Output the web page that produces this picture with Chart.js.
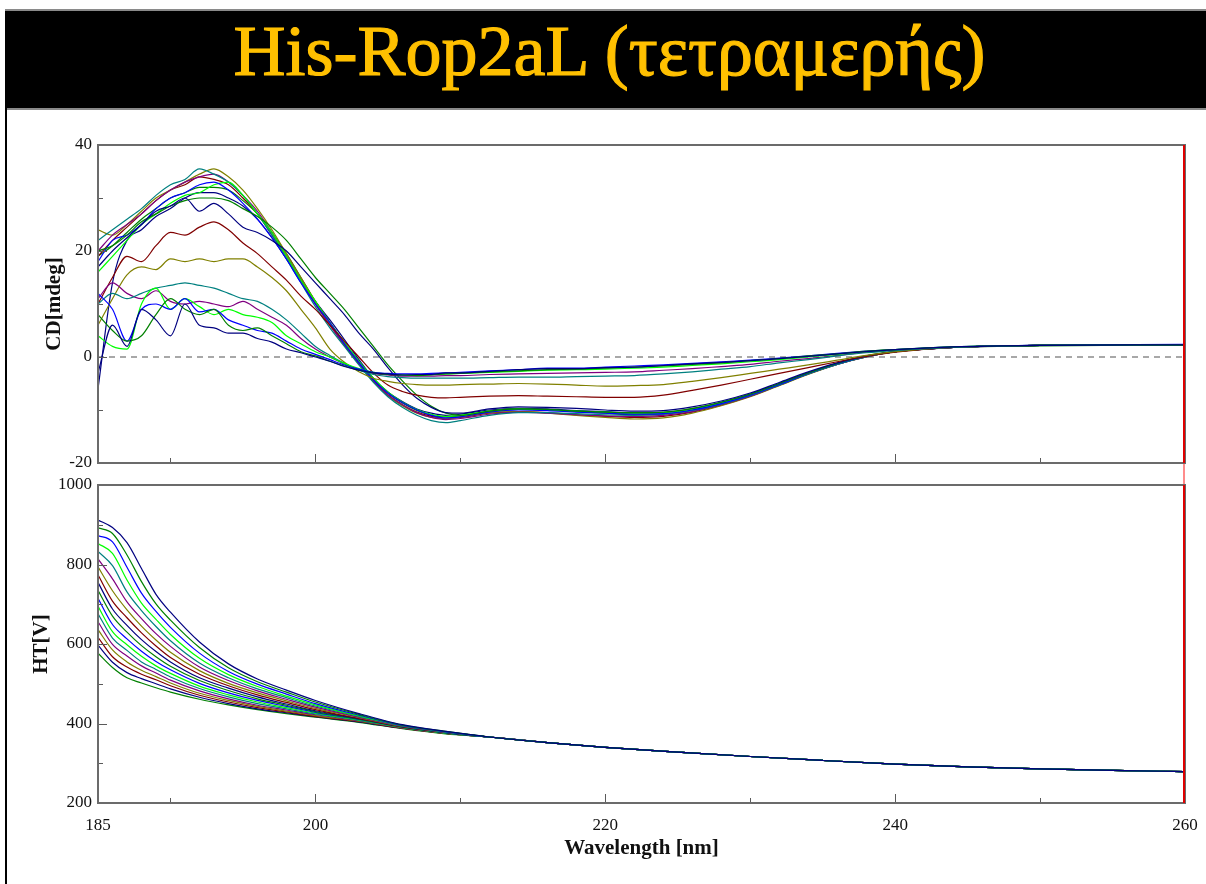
<!DOCTYPE html>
<html>
<head>
<meta charset="utf-8">
<script src="https://cdn.jsdelivr.net/npm/chart.js@4.4.1/dist/chart.umd.min.js"></script>
<style>
  html, body { margin: 0; padding: 0; background: #fff; }
  #page { position: relative; width: 1206px; height: 884px; overflow: hidden; background: #fff; }
  #banner { position: absolute; left: 5px; top: 9px; width: 1201px; height: 97px; background: #000;
            border-top: 2px solid #8a8a8a; border-bottom: 2px solid #8a8a8a; }
  #banner h1 { position: absolute; left: 0; right: 0; top: 4px; margin: 0; text-align: center;
               font: normal 72px/72px "Liberation Serif", serif; color: #ffc000; padding-left: 8px;
               -webkit-text-stroke: 1.2px #ffc000; }
  #edge { position: absolute; left: 5px; top: 108px; bottom: 0; width: 2px; background: #000; }
  canvas { position: absolute; left: 0; }
  #cd { top: 130px; }
  #ht { top: 470px; }
</style>
</head>
<body>
<div id="page">
  <div id="banner"><h1>His-Rop2aL (τετραμερής)</h1></div>
  <div id="edge"></div>
  <canvas id="cd" width="1206" height="355"></canvas>
  <canvas id="ht" width="1206" height="414"></canvas>
</div>
<script>
// wavelength grids (nm)
const cdWavelengths = [185, 186, 187, 188, 189, 190, 191, 192, 193, 194, 195, 196, 197, 198, 199, 200,
  201, 202, 203, 204, 205, 206, 207, 208, 209, 210, 212, 214, 216, 218, 220, 222, 224, 226, 228, 230,
  232, 234, 236, 238, 240, 244, 250, 260];
const htWavelengths = [185, 186, 187, 188, 189, 190, 192, 194, 196, 198, 200, 203, 206, 209,
  212, 216, 220, 225, 230, 235, 240, 245, 250, 255, 260];

// axis ticks
const wavelengthTicks = [185, 200, 220, 240, 260];
const wavelengthMarks = [190, 200, 210, 220, 230, 240, 250];
const cdTickLabels = [-20, 0, 20, 40];
const htTickLabels = [200, 400, 600, 800, 1000];

// scan colours, cycled through the 18 scans
const scanColors = ['#000080', '#008000', '#0000ff', '#00ff00', '#008080', '#800080', '#808000', '#800000'];

// CD [mdeg], one row per scan
const cdScans = [
  [-3, 6, 2, 9, 7, 4, 10, 6, 5.5, 4.5, 4.5, 3.5, 2.8, 1.5, 0.8, 0, -0.8, -1.8, -2.5, -3, -3.2, -3.4, -3.3, -3.3, -3, -3,
   -2.7, -2.4, -2.2, -2.2, -2, -1.9, -1.6, -1.3, -1, -0.7, -0.3, 0.1, 0.6, 1, 1.4, 1.9, 2.2, 2.3],
  [8, 5, 3, 4, 8, 11, 9, 8, 9, 6, 5, 5.5, 4, 2.5, 1, 0.2, -0.8, -1.7, -2.5, -3, -3.3, -3.4, -3.5, -3.4, -3.2, -3.1,
   -2.8, -2.6, -2.4, -2.3, -2.1, -1.9, -1.7, -1.4, -1.1, -0.7, -0.3, 0.2, 0.6, 1.1, 1.4, 1.9, 2.2, 2.3],
  [12, 9, 3, 9, 10, 9, 11, 8.5, 9, 7, 6, 5, 4.5, 3, 1.5, 0.5, -0.5, -1.5, -2.3, -2.9, -3.1, -3.2, -3.2, -3.1, -3, -2.9,
   -2.6, -2.4, -2.1, -2.1, -1.9, -1.7, -1.5, -1.2, -0.9, -0.6, -0.2, 0.2, 0.7, 1.1, 1.4, 1.9, 2.2, 2.4],
  [4, 2, 1.5, 10, 13, 9, 11, 9.5, 8, 9, 8, 7.5, 6.5, 4, 2.5, 1, 0, -1.2, -2.2, -2.9, -3.2, -3.4, -3.4, -3.3, -3.2, -3.1,
   -2.9, -2.7, -2.5, -2.4, -2.3, -2.1, -1.9, -1.6, -1.3, -0.9, -0.5, 0, 0.5, 1, 1.4, 1.9, 2.2, 2.3],
  [10, 12, 11, 12, 13, 13.5, 14, 13.5, 13, 12, 11, 10.5, 9, 7, 4.5, 2, 0.3, -1.2, -2.5, -3.3, -3.7, -3.9, -4, -4, -4, -4,
   -3.9, -3.8, -3.8, -3.7, -3.6, -3.5, -3.2, -2.8, -2.3, -1.8, -1.1, -0.5, 0.2, 0.8, 1.2, 1.8, 2.2, 2.3],
  [11, 14, 12, 11, 12.5, 10.5, 10, 10.5, 10, 9.5, 10.5, 9, 7.5, 6, 3.5, 1.5, 0, -1.3, -2.4, -3.1, -3.4, -3.6, -3.6, -3.6, -3.5, -3.5,
   -3.3, -3.2, -3.1, -3, -2.9, -2.8, -2.5, -2.2, -1.8, -1.4, -0.8, -0.3, 0.3, 0.9, 1.3, 1.8, 2.2, 2.3],
  [6, 11, 15.5, 17, 16.5, 18.5, 18, 18.5, 18, 18.5, 18.5, 17, 15, 12.5, 9, 5.5, 1.5, -1, -2.8, -4, -4.6, -5, -5.2, -5.3, -5.3, -5.2,
   -5.1, -5, -5.1, -5.3, -5.5, -5.4, -5.2, -4.6, -3.9, -3.1, -2.3, -1.5, -0.6, 0.3, 1, 1.8, 2.2, 2.3],
  [10, 15, 19, 18, 21, 23.5, 23, 24.5, 25.5, 24, 21.5, 19.5, 17, 14.5, 11.5, 9, 6, 3, 0, -3, -5.3, -6.5, -7.2, -7.6, -7.7, -7.6,
   -7.4, -7.3, -7.4, -7.5, -7.6, -7.6, -7.2, -6.3, -5.3, -4.2, -3.1, -2, -0.9, 0.1, 0.9, 1.8, 2.2, 2.3],
  [17, 20, 22.5, 25, 27.5, 28.5, 30, 27.5, 29, 27, 24.5, 23.5, 22, 20, 17, 14, 11, 8, 4.5, 1.5, -2, -5.2, -7.8, -9.5, -10.5, -10.6,
   -9.8, -9.4, -9.5, -9.7, -10, -10.2, -10.1, -9.4, -8.3, -6.8, -4.8, -2.8, -1.1, 0.2, 1, 1.8, 2.2, 2.3],
  [20, 21, 23, 25.5, 27, 28.5, 29.5, 30, 30, 29.5, 28, 26.5, 24.5, 22, 18.5, 15, 12, 9, 5.5, 2, -1.5, -4.5, -7.2, -9.3, -10.6, -11,
   -10.2, -9.8, -9.9, -10.2, -10.4, -10.5, -10.4, -9.7, -8.5, -7, -5, -3, -1.2, 0.2, 1, 1.8, 2.1, 2.3],
  [18, 22, 23, 25, 28, 30, 31, 32.5, 33, 31.5, 29, 26, 22.5, 18.5, 14, 10, 6.5, 2.5, -1, -4.3, -6.8, -8.6, -10, -11, -11.5, -11.3,
   -10.4, -10, -10.1, -10.4, -10.6, -10.8, -10.7, -10, -8.8, -7.2, -5.2, -3.1, -1.3, 0.1, 1, 1.8, 2.2, 2.3],
  [16, 19, 22, 25, 27, 29, 30.5, 31, 32.5, 33, 30.5, 27, 23.5, 19, 14.5, 10.5, 6.5, 2.8, -0.8, -4, -6.6, -8.5, -9.9, -10.8, -11.2, -11,
   -10.2, -9.8, -10, -10.2, -10.4, -10.6, -10.5, -9.9, -8.7, -7.1, -5.1, -3.1, -1.3, 0.1, 1, 1.9, 2.2, 2.3],
  [22, 24, 26, 28, 30.5, 32.5, 33.5, 35.5, 34.5, 33, 30.5, 27, 23, 18.5, 14, 9.5, 5.5, 2, -1.5, -4.8, -7.5, -9.5, -11, -12, -12.4, -12,
   -11, -10.5, -10.5, -10.7, -10.9, -11, -10.8, -10.1, -8.9, -7.3, -5.3, -3.2, -1.4, 0, 1, 1.8, 2.2, 2.3],
  [20, 23, 25, 27, 29.5, 31.5, 33, 34, 34.5, 33, 30.5, 27.5, 23.5, 19, 14.5, 10, 6, 2.3, -1.2, -4.5, -7.2, -9, -10.5, -11.4, -11.8, -11.6,
   -10.8, -10.4, -10.6, -10.9, -11.1, -11.2, -11, -10.3, -9, -7.4, -5.3, -3.2, -1.4, 0, 1, 1.8, 2.2, 2.3],
  [24, 23, 25, 27.5, 30, 31.5, 33, 34.5, 35.5, 34, 31.5, 28, 24, 19.5, 15, 10.5, 6.5, 2.5, -1.2, -4.6, -7.3, -9.2, -10.6, -11.4, -11.6, -11.3,
   -10.5, -10.3, -10.6, -11, -11.4, -11.7, -11.5, -10.6, -9.2, -7.5, -5.4, -3.3, -1.4, 0, 1, 1.8, 2.2, 2.3],
  [19, 22, 24.5, 27, 29.5, 31.5, 32.5, 34, 33.5, 32.5, 30, 27, 23, 19, 14.5, 10, 6, 2.2, -1.3, -4.5, -7.1, -9, -10.4, -11.2, -11.6, -11.4,
   -10.6, -10.3, -10.5, -10.9, -11.2, -11.4, -11.2, -10.4, -9.1, -7.4, -5.3, -3.2, -1.4, 0, 1, 1.8, 2.2, 2.3],
  [-6, 14, 22, 24, 26.5, 28, 30, 31, 31, 30, 28.5, 26, 22.5, 18.5, 14.5, 10.5, 7, 3.3, -0.5, -4, -6.6, -8.4, -9.8, -10.6, -11, -10.8,
   -10, -9.7, -9.8, -10.1, -10.3, -10.6, -10.5, -9.8, -8.6, -7, -5, -3, -1.2, 0.1, 1, 1.8, 2.2, 2.3],
  [19, 21, 23.5, 26, 28, 30, 31, 32, 32, 31.5, 29.5, 27, 23.5, 19.5, 15, 10.5, 6.5, 2.7, -0.9, -4.2, -6.8, -8.7, -10.1, -11, -11.3, -11.1,
   -10.3, -9.9, -10, -10.3, -10.6, -10.9, -10.8, -10.1, -8.9, -7.3, -5.2, -3.1, -1.3, 0.1, 1, 1.8, 2.2, 2.3]
];

// HT [V], 185-209 nm for each scan; above 212 nm the scans coincide
const htHeads = [
  [912, 893, 855, 790, 725, 680, 605, 550, 512, 484, 458, 425, 397, 380],
  [892, 878, 824, 757, 701, 660, 591, 540, 505, 479, 454, 423, 396, 380],
  [873, 857, 793, 728, 682, 642, 577, 531, 499, 474, 450, 421, 395, 379],
  [853, 828, 761, 703, 662, 624, 564, 523, 493, 469, 447, 419, 395, 379],
  [833, 797, 731, 684, 644, 608, 552, 515, 487, 465, 444, 418, 394, 379],
  [814, 764, 706, 664, 626, 594, 542, 508, 482, 461, 441, 416, 393, 378],
  [794, 734, 686, 645, 610, 579, 533, 501, 477, 457, 438, 415, 393, 378],
  [774, 708, 666, 628, 595, 566, 524, 495, 472, 453, 435, 413, 392, 378],
  [755, 688, 647, 611, 581, 555, 515, 489, 467, 449, 432, 412, 392, 377],
  [735, 670, 630, 596, 568, 544, 508, 483, 462, 446, 430, 411, 391, 377],
  [715, 649, 613, 582, 556, 535, 501, 477, 458, 443, 428, 410, 391, 377],
  [695, 631, 598, 569, 545, 526, 494, 472, 454, 440, 426, 409, 390, 376],
  [676, 615, 584, 555, 536, 517, 488, 467, 450, 437, 424, 408, 390, 376],
  [656, 599, 570, 545, 527, 509, 482, 462, 446, 434, 422, 407, 389, 376],
  [636, 585, 555, 534, 518, 502, 476, 458, 443, 431, 420, 406, 389, 375],
  [617, 568, 542, 524, 510, 495, 471, 454, 440, 429, 418, 405, 388, 375],
  [597, 554, 528, 513, 500, 487, 466, 450, 437, 427, 417, 404, 388, 375],
  [577, 541, 515, 502, 490, 479, 461, 447, 435, 425, 416, 403, 387, 374]
];
const htTail = [366, 352, 340, 328, 317, 307, 298, 291, 286, 282, 279];
const htScans = htHeads.map(h => h.concat(htTail));

const serif = '"Liberation Serif", "Times New Roman", serif';

function scanDatasets(xs, rows) {
  return rows.map((row, i) => ({
    data: row.map((y, j) => ({ x: xs[j], y: y })),
    borderColor: scanColors[i % scanColors.length],
    borderWidth: 1.2,
    pointRadius: 0,
    cubicInterpolationMode: 'monotone',
    order: 1
  }));
}

// frame, inward tick marks and the red cursor at 260 nm
const panelFrame = {
  id: 'panelFrame',
  afterDatasetsDraw(chart, args, opts) {
    const { ctx, chartArea: a, scales } = chart;
    ctx.save();
    ctx.strokeStyle = '#5a5a5a';
    ctx.lineWidth = 1;
    wavelengthMarks.forEach(v => {
      const px = Math.round(scales.x.getPixelForValue(v)) + 0.5;
      const len = v % 20 === 0 ? 9 : 5;
      ctx.beginPath();
      ctx.moveTo(px, a.bottom);
      ctx.lineTo(px, a.bottom - len);
      ctx.stroke();
    });
    scales.y.ticks.forEach(t => {
      if (t.value === scales.y.min || t.value === scales.y.max) return;
      const py = Math.round(scales.y.getPixelForValue(t.value)) + 0.5;
      const len = opts.labels.includes(t.value) ? 9 : 5;
      ctx.beginPath();
      ctx.moveTo(a.left, py);
      ctx.lineTo(a.left + len, py);
      ctx.stroke();
    });
    ctx.strokeStyle = '#6b6b6b';
    ctx.lineWidth = 2;
    ctx.strokeRect(a.left, a.top, a.right - a.left, a.bottom - a.top);
    const rx = scales.x.getPixelForValue(260) - 1;
    ctx.strokeStyle = '#e00000';
    ctx.beginPath();
    ctx.moveTo(rx, a.top);
    ctx.lineTo(rx, a.bottom);
    ctx.stroke();
    if (opts.tail) {
      ctx.strokeStyle = '#ff8c8c';
      ctx.beginPath();
      ctx.moveTo(rx, a.bottom + 1);
      ctx.lineTo(rx, a.bottom + opts.tail);
      ctx.stroke();
    }
    ctx.restore();
  }
};

function yAxis(min, max, step, labels, title, titlePad) {
  return {
    type: 'linear', min: min, max: max,
    afterFit: s => { s.width = 98; s.paddingTop = 0; s.paddingBottom = 0; },
    grid: { display: false, drawTicks: false }, border: { display: false },
    ticks: {
      stepSize: step, padding: 6, color: '#111',
      font: { family: serif, size: 17 },
      callback: v => labels.includes(v) ? String(v) : ''
    },
    title: {
      display: true, text: title, color: '#111',
      font: { family: serif, size: 21, weight: 'bold', lineHeight: 1.2 },
      padding: { top: titlePad, bottom: 0 }
    }
  };
}

Chart.defaults.animation = false;

new Chart(document.getElementById('cd'), {
  type: 'line',
  data: {
    datasets: scanDatasets(cdWavelengths, cdScans).concat([{
      data: [{ x: 185, y: 0 }, { x: 260, y: 0 }],
      borderColor: '#a8a8a8', borderWidth: 2, borderDash: [6, 5], pointRadius: 0, order: 99
    }])
  },
  options: {
    responsive: false, devicePixelRatio: 1,
    layout: { padding: { top: 15, right: 21, bottom: 22, left: 0 } },
    plugins: { legend: { display: false }, tooltip: { enabled: false }, panelFrame: { labels: cdTickLabels, tail: 22 } },
    scales: {
      x: { type: 'linear', min: 185, max: 260, display: false },
      y: yAxis(-20, 40, 10, cdTickLabels, 'CD[mdeg]', 42)
    }
  },
  plugins: [panelFrame]
});

new Chart(document.getElementById('ht'), {
  type: 'line',
  data: { datasets: scanDatasets(htWavelengths, htScans) },
  options: {
    responsive: false, devicePixelRatio: 1,
    layout: { padding: { top: 15, right: 21, bottom: 0, left: 0 } },
    plugins: { legend: { display: false }, tooltip: { enabled: false }, panelFrame: { labels: htTickLabels, tail: 0 } },
    scales: {
      x: {
        type: 'linear', min: 185, max: 260,
        afterFit: s => { s.height = 81; s.paddingLeft = 0; s.paddingRight = 0; },
        afterBuildTicks: s => { s.ticks = wavelengthTicks.map(v => ({ value: v })); },
        grid: { display: false, drawTicks: false }, border: { display: false },
        ticks: { padding: 12, color: '#111', maxRotation: 0, autoSkip: false, font: { family: serif, size: 17 } },
        title: {
          display: true, text: 'Wavelength [nm]', color: '#111',
          font: { family: serif, size: 21, weight: 'bold', lineHeight: 1.2 },
          padding: { top: 0, bottom: 23 }
        }
      },
      y: yAxis(200, 1000, 100, htTickLabels, 'HT[V]', 29)
    }
  },
  plugins: [panelFrame]
});
</script>
</body>
</html>
